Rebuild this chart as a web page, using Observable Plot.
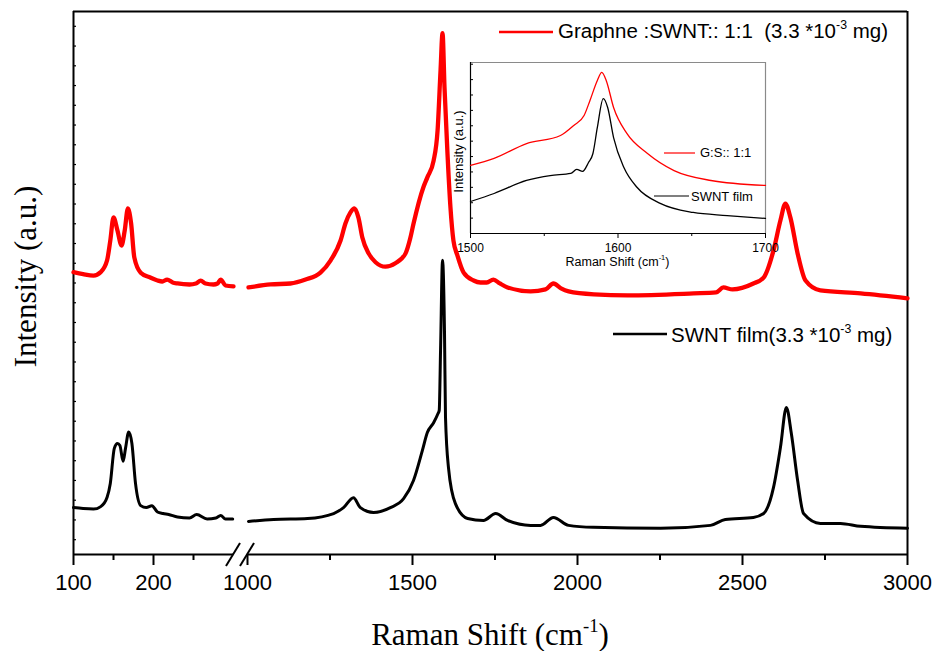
<!DOCTYPE html>
<html>
<head>
<meta charset="utf-8">
<script src="https://cdn.jsdelivr.net/npm/d3@7"></script>
<script src="https://cdn.jsdelivr.net/npm/@observablehq/plot@0.6"></script>
<style>
  body { margin: 0; background: #fff; }
  #wrap { position: relative; width: 936px; height: 651px; overflow: hidden; }
  #inset { position: absolute; left: 420px; top: 40px; }
</style>
</head>
<body>
<div id="wrap"><div id="main"></div><div id="inset"></div></div>
<script>
// ---------- DATA (Raman shift cm^-1, intensity a.u.) ----------
const grapheneLow = [[100,572],[112,568],[125,565],[134,572],[142,596],[146,636],[150,683],[155,656],[160,626],[164,656],[168,701],[172,671],[176,602],[184,571],[196,561],[205,555],[211,553],[217,557],[224,551],[230,549],[245,547],[253,549],[259,555],[265,549],[275,547],[280,549],[284,557],[290,545],[300,543]];
const grapheneHigh = [[1003,541],[1070,547],[1130,549],[1176,557],[1221,571],[1252,596],[1282,636],[1297,671],[1312,693],[1324,701],[1336,683],[1348,642],[1367,610],[1388,592],[1418,583],[1448,590],[1479,610],[1493,640],[1503,670],[1533,744],[1545,764],[1564,798],[1576,859],[1585,981],[1591,1056],[1597,946],[1606,812],[1615,703],[1624,636],[1636,606],[1655,571],[1685,555],[1706,551],[1725,551],[1745,557],[1765,549],[1788,541],[1858,533],[1903,537],[1927,549],[1950,539],[1973,533],[2050,527],[2152,525],[2352,529],[2420,531],[2442,541],[2470,537],[2533,549],[2564,561],[2594,616],[2615,677],[2630,711],[2645,683],[2667,610],[2691,555],[2736,535],[2858,529],[3000,519]];
const swntLow = [[100,95],[112,93],[125,92],[134,97],[142,116],[146,144],[151,215],[155,225],[158,221],[162,189],[165,215],[169,248],[173,225],[177.5,144],[184,99],[191,95],[198,99],[205,86],[212,83],[219,81],[230,76],[245,74],[254,81],[267,72],[278,74],[284,79],[290,72],[299,72]];
const swntHigh = [[1003,67],[1079,71],[1182,73],[1261,83],[1291,95],[1321,115],[1342,95],[1382,85],[1433,95],[1473,113],[1503,150],[1530,211],[1545,247],[1564,267],[1577,285],[1581,292],[1585,413],[1591,596],[1597,448],[1600,278],[1609,176],[1630,103],[1667,73],[1715,69],[1752,83],[1788,69],[1858,59],[1888,59],[1927,75],[1973,59],[2048,55],[2252,53],[2403,59],[2448,71],[2533,75],[2564,83],[2594,136],[2615,217],[2633,298],[2648,245],[2667,150],[2685,83],[2736,63],[2797,63],[2858,57],[3000,53]];

const insetGraphene = [[1500,39.8],[1516,43.9],[1538,52.6],[1561,57.3],[1570,63.2],[1577,69.0],[1581,77.8],[1586,89.5],[1589,94.2],[1592,89.5],[1597,73.7],[1606,58.5],[1620,46.8],[1638,36.8],[1663,31.0],[1700,28.1]];
const insetSwnt = [[1500,18.7],[1516,23.4],[1538,31.0],[1554,33.9],[1568,35.1],[1572,37.5],[1576,36.3],[1580,41.5],[1583,46.8],[1586,62.0],[1590,78.9],[1593,73.7],[1597,56.1],[1604,38.6],[1613,26.9],[1629,17.5],[1651,12.3],[1674,10.5],[1700,8.8]];

// ---------- AXES / TICKS / LABELS ----------
const xBreak = [300, 1000];          // axis broken between these shifts
const xMajorTicks = [100, 200, 1000, 1500, 2000, 2500, 3000];
const xMinorTicks = [150, 250, 1250, 1750, 2250, 2750];
const yMinorTicks = d3.range(30, 1100, 40);
const insetXMajor = [1500, 1600, 1700];
const insetXMinor = [1550, 1650];
const insetYTicks = d3.range(9, 100, 9);

const xTitle = [["Raman Shift (cm"], ["-1", true], [")"]];
const yTitle = [["Intensity (a.u.)"]];
const legendGraphene = [["Graphne :SWNT:: 1:1  (3.3 *10"], ["-3", true], [" mg)"]];
const legendSwnt = [["SWNT film(3.3 *10"], ["-3", true], [" mg)"]];
const insetLegendGraphene = "G:S:: 1:1";
const insetLegendSwnt = "SWNT film";

const sans = "'Liberation Sans', Arial, Helvetica, sans-serif";
const serif = "'Liberation Serif', 'Times New Roman', Times, serif";
const RED = "#ff0000";

// broken-axis transform: low segment 0.8 units/cm-1, high segment 0.33 units/cm-1
function u(x) {
  if (x <= xBreak[0]) return (x - 100) * 0.8;
  if (x >= xBreak[1]) return 174 + (x - xBreak[1]) * 0.33;
  return 160 + (x - xBreak[0]) * 14 / (xBreak[1] - xBreak[0]);
}
const labelByU = new Map(xMajorTicks.map(t => [u(t), String(t)]));
const X = d => u(d[0]);

// ---------- MAIN CHART ----------
const main = Plot.plot({
  width: 936, height: 651,
  marginTop: 11, marginBottom: 97, marginLeft: 73, marginRight: 29,
  style: {fontFamily: sans, background: "white", overflow: "visible", color: "black"},
  x: {domain: [u(100), u(3000)], label: null},
  y: {domain: [0, 1100], label: null},
  marks: [
    Plot.axisY(yMinorTicks, {anchor: "left", tickSize: 3, dx: 3, fill: "none", strokeWidth: 1.2, label: null}),
    Plot.axisX(xMajorTicks.map(u), {anchor: "bottom", tickSize: 11, tickPadding: 9, fontSize: 22, strokeWidth: 2, tickFormat: v => labelByU.get(v), label: null, fill: "black"}),
    Plot.axisX(xMinorTicks.map(u), {anchor: "bottom", tickSize: 6, fill: "none", strokeWidth: 2, label: null}),
    Plot.ruleX([u(100), u(3000)], {strokeWidth: 2}),
    Plot.ruleY([1100], {strokeWidth: 2}),
    Plot.ruleY([0], {x1: u(100), x2: u(xBreak[0]), strokeWidth: 2}),
    Plot.ruleY([0], {x1: u(xBreak[1]), x2: u(3000), strokeWidth: 2}),
    Plot.line(swntLow, {x: X, y: d => d[1], stroke: "black", strokeWidth: 3, curve: "monotone-x"}),
    Plot.line(swntHigh, {x: X, y: d => d[1], stroke: "black", strokeWidth: 3, curve: "monotone-x"}),
    Plot.line(grapheneLow, {x: X, y: d => d[1], stroke: RED, strokeWidth: 4.3, curve: "monotone-x"}),
    Plot.line(grapheneHigh, {x: X, y: d => d[1], stroke: RED, strokeWidth: 4.3, curve: "monotone-x"})
  ]
});
document.getElementById("main").appendChild(main);

function richText(parent, {x, y, size, family, anchor = "start", rotate = 0, parts}) {
  const t = parent.append("text")
    .attr("transform", `translate(${x},${y})` + (rotate ? ` rotate(${rotate})` : ""))
    .attr("text-anchor", anchor)
    .attr("font-family", family)
    .attr("font-size", size)
    .attr("fill", "black")
    .attr("xml:space", "preserve")
    .style("white-space", "pre");
  let raised = false;
  for (const [s, sup] of parts) {
    const ts = t.append("tspan").text(s);
    if (sup) { ts.attr("font-size", size * 0.6); if (!raised) { ts.attr("dy", -size * 0.42); raised = true; } }
    else if (raised) { ts.attr("dy", size * 0.42); raised = false; }
  }
  return t;
}

const ms = d3.select(main);
const sx = main.scale("x"), sy = main.scale("y");
// axis break marks
const xb = (sx.apply(u(xBreak[0])) + sx.apply(u(xBreak[1]))) / 2, yb = sy.apply(0);
for (const off of [-7, 7]) {
  ms.append("line").attr("x1", xb + off - 7).attr("y1", yb + 12).attr("x2", xb + off + 7).attr("y2", yb - 11)
    .attr("stroke", "black").attr("stroke-width", 2);
}
// axis titles
const xMid = (sx.apply(u(100)) + sx.apply(u(3000))) / 2, yMid = (sy.apply(0) + sy.apply(1100)) / 2;
richText(ms, {x: xMid, y: 645, size: 31, family: serif, anchor: "middle", parts: xTitle});
richText(ms, {x: 36, y: yMid - 6, size: 31, family: serif, anchor: "middle", rotate: -90, parts: yTitle});
// legends
ms.append("line").attr("x1", 499).attr("x2", 553).attr("y1", 32).attr("y2", 32).attr("stroke", RED).attr("stroke-width", 2.5);
richText(ms, {x: 558, y: 38, size: 20.5, family: sans, parts: legendGraphene});
ms.append("line").attr("x1", 613).attr("x2", 667).attr("y1", 334).attr("y2", 334).attr("stroke", "black").attr("stroke-width", 2.5);
richText(ms, {x: 671, y: 342, size: 20.5, family: sans, parts: legendSwnt});

// ---------- INSET ----------
const inset = Plot.plot({
  width: 360, height: 235,
  marginLeft: 50, marginTop: 22, marginRight: 15, marginBottom: 42,
  style: {fontFamily: sans, background: "transparent", overflow: "visible", color: "black"},
  x: {domain: [1500, 1700], label: null},
  y: {domain: [0, 100], label: null},
  marks: [
    Plot.ruleY([100], {stroke: "#8a8a8a", strokeWidth: 1.2}),
    Plot.ruleX([1700], {stroke: "#8a8a8a", strokeWidth: 1.2}),
    Plot.ruleX([1500], {stroke: "black", strokeWidth: 1.2}),
    Plot.ruleY([0], {stroke: "black", strokeWidth: 1.2}),
    Plot.axisY(insetYTicks, {anchor: "left", tickSize: 3, dx: 3, fill: "none", label: null}),
    Plot.axisX(insetXMajor, {anchor: "bottom", tickSize: 5, tickPadding: 5, fontSize: 12, tickFormat: d => String(d), label: null, fill: "black"}),
    Plot.axisX(insetXMinor, {anchor: "bottom", tickSize: 3, fill: "none", label: null}),
    Plot.line(insetGraphene, {stroke: RED, strokeWidth: 1.3, curve: "monotone-x"}),
    Plot.line(insetSwnt, {stroke: "black", strokeWidth: 1.3, curve: "monotone-x"})
  ]
});
document.getElementById("inset").appendChild(inset);
const is = d3.select(inset);
const ix = inset.scale("x"), iy = inset.scale("y");
const ixMid = (ix.apply(1500) + ix.apply(1700)) / 2, iyMid = (iy.apply(0) + iy.apply(100)) / 2;
richText(is, {x: ixMid, y: 225.5, size: 12.5, family: sans, anchor: "middle", parts: xTitle});
richText(is, {x: 43, y: iyMid + 4, size: 13, family: sans, anchor: "middle", rotate: -90, parts: [["Intensity (a.u.)"]]});
is.append("line").attr("x1", 244).attr("x2", 275).attr("y1", 113).attr("y2", 113).attr("stroke", RED).attr("stroke-width", 1.2);
richText(is, {x: 280, y: 117, size: 13, family: sans, parts: [[insetLegendGraphene]]});
is.append("line").attr("x1", 234).attr("x2", 269).attr("y1", 156).attr("y2", 156).attr("stroke", "black").attr("stroke-width", 1.2);
richText(is, {x: 271, y: 160.5, size: 13, family: sans, parts: [[insetLegendSwnt]]});
</script>
</body>
</html>
